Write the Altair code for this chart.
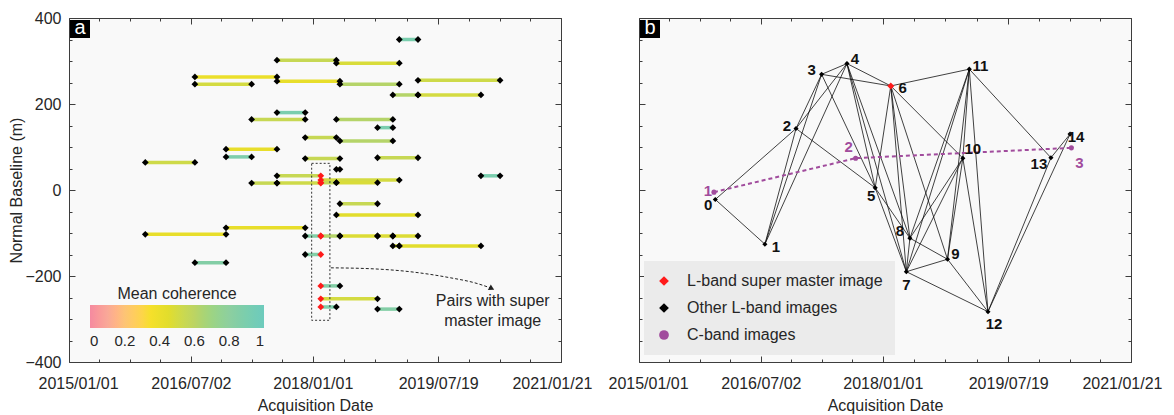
import altair as alt
import pandas as pd

FONT = "Liberation Sans"
INK = "#262626"
FRAME = "#3d3d3d"
RED = "#ff1a1a"
PURPLE = "#a14c9d"

# Acquisition dates of the L-band scenes; list position is the scene number.
scene_dates = [
    "2015-12-10", "2016-07-20", "2016-12-07", "2017-04-01", "2017-07-24",
    "2017-11-28", "2018-02-06", "2018-04-17", "2018-05-03", "2018-10-19",
    "2018-12-27", "2019-01-25", "2019-04-19", "2020-01-27", "2020-04-22",
]
SUPER_MASTER = 6

# Interferometric pairs (panel a): scene numbers, normal baseline (m), mean coherence
pair_first = [11, 4, 7, 1, 12, 4, 1, 8, 10, 12, 4, 3, 7, 9, 5, 8, 2, 2, 9, 5,
              0, 7, 13, 4, 6, 6, 7, 3, 4, 8, 7, 2, 0, 5, 6, 8, 9, 10, 10, 11,
              5, 1, 6, 6, 6, 9]
pair_second = [12, 7, 11, 4, 14, 8, 3, 11, 12, 13, 5, 5, 10, 10, 7, 10, 4, 3, 12, 8,
               1, 8, 14, 6, 11, 7, 9, 4, 6, 9, 12, 5, 2, 6, 8, 9, 10, 12, 11, 13,
               6, 2, 8, 9, 7, 11]
pair_baseline = [350, 302, 295, 263, 255, 253, 246, 246, 221, 221, 180, 164, 164, 145, 122,
                 114, 95, 77, 75, 73, 64, 48, 33, 33, 23, 17, 17, 16, 16, -32,
                 -58, -88, -103, -107, -107, -107, -107, -107, -130, -130,
                 -150, -169, -223, -253, -272, -277]
pair_coherence = [0.90, 0.55, 0.48, 0.40, 0.52, 0.42, 0.50, 0.62, 0.62, 0.50,
                  0.90, 0.55, 0.62, 0.90, 0.55, 0.62, 0.42, 0.88, 0.55, 0.55,
                  0.52, 0.50, 0.90, 0.55, 0.50, 0.55, 0.48, 0.55, 0.52, 0.55,
                  0.45, 0.42, 0.42, 0.85, 0.62, 0.47, 0.47, 0.47, 0.50, 0.45,
                  0.85, 0.85, 0.85, 0.50, 0.88, 0.85]

# Network layout (panel b): vertical position of each L-band scene
network_y = [-22, -126, 143, 269, 294, 5, 242, -190, -112, -161, 74, 281, -283, 75, 130]
# links drawn in the network besides the pairs above
extra_links = [(3, 6), (6, 10)]

# C-band acquisitions
cband_dates = ["2015-12-04", "2017-09-01", "2020-04-28"]
cband_y = [-5, 74, 98]
cband_names = ["1", "2", "3"]

# Ticks and legend entries
x_major_labels = ["2015/01/01", "2016/07/02", "2018/01/01", "2019/07/19", "2021/01/21"]
coherence_ticks = [0, 0.2, 0.4, 0.6, 0.8, 1]
coherence_stops = [0, 0.1, 0.2, 0.35, 0.45, 0.6, 0.8, 1]
coherence_colors = ["#f58aa0", "#f9a898", "#fdc475", "#f5e02a", "#e2dd2c",
                    "#bcd463", "#8dcf9f", "#6dcbbd"]
KINDS = ["L-band super master image", "Other L-band images", "C-band images"]

# Label nudges (pixels) around the network symbols
scene_label_nudge = [(-7, 6), (11, 3), (-9, -3), (-10, -4), (8, -5), (-4, 8), (12, 2),
                     (0, 13), (-10, -7), (8, -5), (10, -9), (11, -3), (6, 12),
                     (-12, 6), (6, 3)]
cband_label_nudge = [(-6, -1), (-7, -11), (8, 15)]

# Annotation in panel a
box_dates = ["2017-12-27", "2018-03-19"]
box_baseline = [62, -303]
arrow_dates = ["2018-03-23", "2018-09-15", "2019-03-14", "2019-09-10", "2019-12-31", "2020-03-12"]
arrow_baseline = [-181, -183, -190, -204, -216, -228]
note_date = "2020-03-20"
note_baseline = -258

# ---------------------------------------------------------------- scales/axes
W, H = 492, 344
TICK = 6
MINOR_DASH = [0, 3, 3, 0]

major_ts = pd.to_datetime(x_major_labels, format="%Y/%m/%d")
tick_ts = []
for a, b in zip(major_ts[:-1], major_ts[1:]):
    tick_ts += [a + (b - a) * k / 4 for k in range(4)]
tick_ts.append(major_ts[-1])
x_tick_values = [alt.DateTime(year=t.year, month=t.month, date=t.day) for t in tick_ts]
y_tick_values = list(range(-400, 401, 50))

X_SCALE = alt.Scale(domain=[x_tick_values[0], x_tick_values[-1]], nice=False)
Y_SCALE = alt.Scale(domain=[-400, 400], nice=False, zero=False)

MAJOR_X = ("indexof([" + ",".join(f"'{s}'" for s in x_major_labels)
           + "], timeFormat(datum.value, '%Y/%m/%d')) >= 0")
MAJOR_Y = "datum.value % 200 == 0"


def tick_dash(major_test):
    return {"condition": {"test": f"!({major_test})", "value": MINOR_DASH},
            "value": [TICK, 0]}


def x_axis(orient, labelled):
    props = dict(orient=orient, values=x_tick_values, domain=False, grid=False,
                 offset=-TICK, tickSize=TICK, tickColor=FRAME, tickDash=tick_dash(MAJOR_X))
    if labelled:
        props.update(title="Acquisition Date",
                     labelExpr=f"({MAJOR_X}) ? timeFormat(datum.value, '%Y/%m/%d') : ''",
                     labelPadding=13, labelFlush=True, labelFlushOffset=31,
                     labelOverlap=False, titlePadding=6)
    else:
        props.update(labels=False, title=None)
    return alt.Axis(**props)


def y_axis(orient, labelled):
    props = dict(orient=orient, values=y_tick_values, domain=False, grid=False,
                 offset=-TICK, tickSize=TICK, tickColor=FRAME, tickDash=tick_dash(MAJOR_Y))
    if labelled:
        props.update(title="Normal Baseline (m)",
                     labelExpr=f"({MAJOR_Y}) ? datum.label : ''",
                     labelPadding=8, labelOverlap=False, titlePadding=0)
    else:
        props.update(labels=False, title=None)
    return alt.Axis(**props)


def xs(field, axis=None):
    return alt.X(f"{field}:T", scale=X_SCALE, axis=axis)


def ys(field, axis=None):
    return alt.Y(f"{field}:Q", scale=Y_SCALE, axis=axis)


def panel_tag(letter):
    df = pd.DataFrame({"tag": [letter]})
    box = alt.Chart(df).mark_rect(color="#000000").encode(
        x=alt.value(1), x2=alt.value(21), y=alt.value(2), y2=alt.value(20))
    txt = alt.Chart(df).mark_text(color="white", font=FONT, fontSize=20,
                                  align="center", baseline="middle").encode(
        x=alt.value(11), y=alt.value(10), text="tag:N")
    return [box, txt]


# ---------------------------------------------------------------- panel a
pairs = pd.DataFrame({
    "start": [scene_dates[i] for i in pair_first],
    "end": [scene_dates[j] for j in pair_second],
    "baseline": pair_baseline,
    "coherence": pair_coherence,
})
ends = pd.DataFrame({
    "date": [scene_dates[i] for i in pair_first] + [scene_dates[j] for j in pair_second],
    "baseline": pair_baseline + pair_baseline,
    "scene": pair_first + pair_second,
})

coh_legend = alt.Legend(
    orient="none", legendX=21, legendY=268, direction="horizontal",
    title="Mean coherence", titleFontSize=16, titleFontWeight="normal",
    titleAnchor="middle", titlePadding=3, titleColor=INK,
    gradientLength=174, gradientThickness=23, gradientStrokeWidth=0,
    values=coherence_ticks, format="~g", labelFontSize=15, labelOffset=6,
    labelAlign="center", labelColor=INK, padding=0,
)

segments = alt.Chart(pairs).mark_rule(strokeWidth=3.5).encode(
    x=xs("start", x_axis("bottom", True)),
    x2="end:T",
    y=ys("baseline", y_axis("left", True)),
    color=alt.Color("coherence:Q",
                    scale=alt.Scale(domain=coherence_stops, range=coherence_colors),
                    legend=coh_legend),
)

endpoints = alt.Chart(ends).mark_point(shape="diamond", filled=True, size=46,
                                       opacity=1, strokeWidth=0).encode(
    x=xs("date", x_axis("top", False)),
    y=ys("baseline", y_axis("right", False)),
    fill=alt.condition(f"datum.scene == {SUPER_MASTER}", alt.value(RED), alt.value("#000000")),
)

box = alt.Chart(pd.DataFrame({"x0": [box_dates[0]], "x1": [box_dates[1]],
                              "y0": [box_baseline[0]], "y1": [box_baseline[1]]})
                ).mark_rect(fillOpacity=0, stroke="#333333", strokeDash=[2, 2],
                            strokeWidth=1).encode(
    x=xs("x0"), x2="x1:T", y=ys("y0"), y2="y1:Q")

arrow_df = pd.DataFrame({"date": arrow_dates, "baseline": arrow_baseline})
arrow = alt.Chart(arrow_df).mark_line(color="#222222", strokeDash=[3, 2], strokeWidth=1,
                                      interpolate="monotone").encode(
    x=xs("date"), y=ys("baseline"))
head = alt.Chart(arrow_df.tail(1)).mark_point(shape="triangle", filled=True, size=40,
                                              angle=118, color="#222222", opacity=1).encode(
    x=xs("date"), y=ys("baseline"))

note = alt.Chart(pd.DataFrame({"date": [note_date], "baseline": [note_baseline],
                               "text": ["Pairs with super\nmaster image"]})
                 ).mark_text(font=FONT, fontSize=16, color=INK, lineBreak="\n",
                             lineHeight=20, align="center", baseline="middle").encode(
    x=xs("date"), y=ys("baseline"), text="text:N")

panel_a = alt.layer(segments, endpoints, box, arrow, head, note, *panel_tag("a")).resolve_axis(
    x="independent", y="independent").properties(width=W, height=H)

# ---------------------------------------------------------------- panel b
links = sorted({tuple(sorted(p)) for p in zip(pair_first, pair_second)} | set(extra_links))
edge_df = pd.DataFrame({
    "d0": [scene_dates[a] for a, b in links],
    "d1": [scene_dates[b] for a, b in links],
    "y0": [network_y[a] for a, b in links],
    "y1": [network_y[b] for a, b in links],
})
nudges = scene_label_nudge + cband_label_nudge
nodes = pd.DataFrame({
    "date": scene_dates + cband_dates,
    "y": network_y + cband_y,
    "kind": [KINDS[0] if i == SUPER_MASTER else KINDS[1] for i in range(len(scene_dates))]
            + [KINDS[2]] * len(cband_dates),
    "label": [str(i) for i in range(len(scene_dates))] + cband_names,
})
nodes["lid"] = range(len(nodes))
cband_df = nodes[nodes["kind"] == KINDS[2]]

net_legend = alt.Legend(
    orient="none", legendX=5, legendY=243, title=None, fillColor="#ebebeb",
    padding=12, rowPadding=11, labelFontSize=16, labelOffset=15, symbolSize=95,
    symbolStrokeWidth=0, labelColor=INK, labelLimit=320,
)
kind_color = alt.Scale(domain=KINDS, range=[RED, "#000000", PURPLE])
kind_shape = alt.Scale(domain=KINDS, range=["diamond", "diamond", "circle"])

edges = alt.Chart(edge_df).mark_rule(color="#111111", strokeWidth=0.8).encode(
    x=xs("d0", x_axis("bottom", True)), x2="d1:T",
    y=ys("y0", y_axis("left", False)), y2="y1:Q")

cline = alt.Chart(cband_df).mark_line(color=PURPLE, strokeDash=[4, 3], strokeWidth=2).encode(
    x=xs("date"), y=ys("y"))

points = alt.Chart(nodes).mark_point(filled=True, opacity=1, strokeWidth=0, size=26).encode(
    x=xs("date", x_axis("top", False)),
    y=ys("y", y_axis("right", False)),
    color=alt.Color("kind:N", scale=kind_color, legend=net_legend),
    shape=alt.Shape("kind:N", scale=kind_shape, legend=net_legend),
)
master_point = alt.Chart(nodes).transform_filter(f"datum.lid == {SUPER_MASTER}").mark_point(
    filled=True, opacity=1, strokeWidth=0, size=48, shape="diamond", color=RED).encode(
    x=xs("date"), y=ys("y"))

# one text layer per symbol so each label gets its own nudge
label_layers = []
for lid, (ndx, ndy) in enumerate(nudges):
    label_layers.append(
        alt.Chart(nodes).transform_filter(f"datum.lid == {lid}").mark_text(
            font=FONT, fontSize=15, fontWeight="bold", align="center",
            baseline="middle", dx=ndx, dy=ndy).encode(
            x=xs("date"), y=ys("y"), text="label:N",
            color=alt.condition(f"datum.kind == '{KINDS[2]}'", alt.value(PURPLE),
                                alt.value("#111111")),
        )
    )

panel_b = alt.layer(edges, cline, points, master_point, *label_layers, *panel_tag("b")).resolve_axis(
    x="independent", y="independent").properties(width=W, height=H)

chart = alt.hconcat(panel_a, panel_b, spacing=78, bounds="flush").resolve_scale(
    color="independent", shape="independent"
).properties(
    padding={"left": 8, "top": 9, "right": 2, "bottom": 2}
).configure_view(
    stroke=FRAME, strokeWidth=1, fill="#f9f9f9"
).configure_axis(
    labelFont=FONT, titleFont=FONT, labelFontSize=16, titleFontSize=16,
    labelColor=INK, titleColor=INK, titleFontWeight="normal",
).configure_legend(labelFont=FONT, titleFont=FONT)

chart.save("out.html", embed_options={"renderer": "svg", "actions": False})
